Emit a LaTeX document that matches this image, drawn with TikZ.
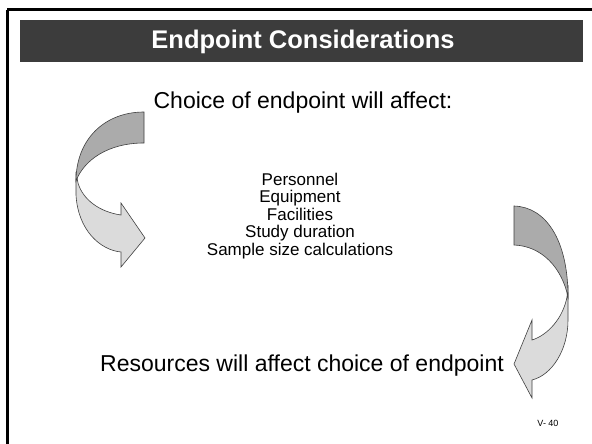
\documentclass[tikz,border=0pt]{standalone}
\usepackage{fontspec}
\setmainfont{Liberation Sans}
\usepackage{xcolor}
\definecolor{barfill}{HTML}{3C3C3C}
\definecolor{backface}{HTML}{ABABAB}
\definecolor{frontface}{HTML}{DBDBDB}
\begin{document}
\begin{tikzpicture}[x=1pt,y=-1pt,
    curvedback/.style={fill=backface, draw=black!75, line width=0.6pt},
    curvedfront/.style={fill=frontface, draw=black!75, line width=0.6pt},
    bigtext/.style={font=\fontsize{23}{27}\selectfont, inner sep=0pt},
    listtext/.style={font=\fontsize{17}{17.4}\selectfont, align=center, inner sep=0pt}]
    \useasboundingbox (0,0) rectangle (592,444);
    \fill[white] (0,0) rectangle (592,444);

    % Slide frame
    \draw[line width=3pt] (7,10) -- (600,10);
    \draw[line width=3pt] (7,10) -- (7,450);

    % Title bar
    \fill[barfill] (20,20) rectangle (583,62);
    \node[white, font=\fontsize{25.5}{30}\selectfont\bfseries] (title) at (303,42) {Endpoint Considerations};

    % Left curved arrow
    \draw[curvedfront] (76,172) -- (76,195) .. controls (78,230) and (100,250) .. (121,252)
        -- (121,267) -- (145,238) -- (121,203) -- (121,215)
        .. controls (100,212) and (83,200) .. (78,183) -- cycle;
    \draw[curvedback] (144,112) .. controls (104,112) and (76,140) .. (76,181)
        .. controls (84,160) and (108,143) .. (144,143) -- cycle;

    % Right curved arrow
    \draw[curvedfront] (568,285) -- (568,320) .. controls (568,350) and (552,375) .. (532,380)
        -- (532,398) -- (514,364) -- (532,320) -- (532,340)
        .. controls (548,335) and (563,318) .. (567,297) -- cycle;
    \draw[curvedback] (514,206) .. controls (546,207) and (568,240) .. (568,297)
        .. controls (562,268) and (542,246) .. (514,245) -- cycle;

    % Texts
    \node[bigtext] (affect) at (303,103) {Choice of endpoint will affect:};
    \node[listtext] (items) at (300,216) {Personnel\\Equipment\\Facilities\\Study duration\\Sample size calculations};
    \node[bigtext] (resources) at (302,366) {Resources will affect choice of endpoint};
    \node[font=\fontsize{9}{11}\selectfont] (pagenum) at (548,423) {V- 40};
\end{tikzpicture}
\end{document}
